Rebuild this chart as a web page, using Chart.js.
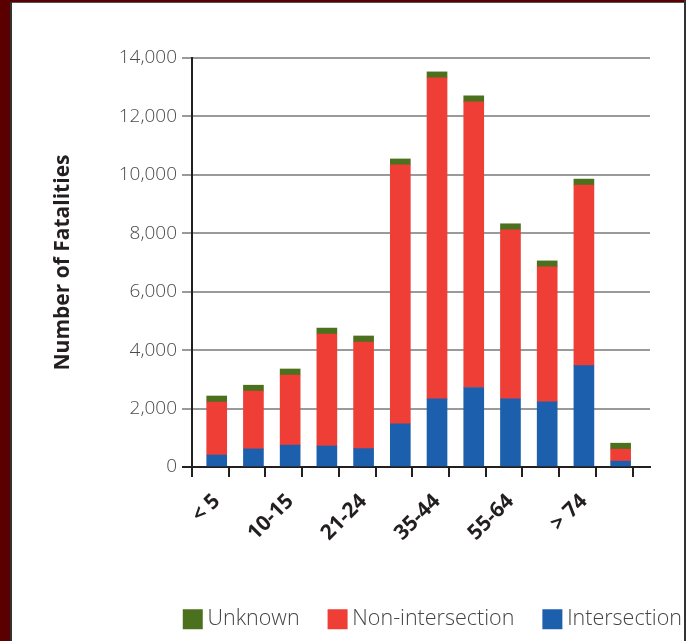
<!DOCTYPE html>
<html><head><meta charset="utf-8">
<script src="https://cdn.jsdelivr.net/npm/chart.js@4.4.1/dist/chart.umd.min.js"></script>
<style>
html,body{margin:0;padding:0;width:692px;height:641px;overflow:hidden;background:#fff;position:relative}
#wrap{position:absolute;left:0;top:0;width:716px;height:640px}
.b{position:absolute;z-index:2}
</style></head><body>
<div id="wrap"><canvas id="c" width="716" height="640"></canvas></div>
<div class="b" style="left:0;top:0;width:10px;height:641px;background:#5a0000"></div>
<div class="b" style="left:10px;top:0;width:2px;height:641px;background:#333"></div>
<div class="b" style="left:0;top:0;width:686px;height:2px;background:#5a0000"></div>
<div class="b" style="left:12px;top:2px;width:672px;height:1px;background:#555"></div>
<div class="b" style="left:684px;top:0;width:2px;height:641px;background:#333"></div>
<script>
// ---- data ----
const categories = ['< 5','5-9','10-15','16-20','21-24','25-34','35-44','45-54','55-64','65-74','> 74','Unknown'];
const tickLabels = ['< 5','','10-15','','21-24','','35-44','','55-64','','> 74',''];
const intersection    = [410, 620, 750, 720, 630, 1480, 2330, 2720, 2330, 2230, 3470, 200];
const nonIntersection = [1810, 1980, 2400, 3830, 3650, 8860, 10990, 9780, 5790, 4620, 6180, 410];
const unknown         = [210, 200, 205, 205, 205, 205, 205, 205, 205, 205, 205, 205];
const yTickStep = 2000;
const yMax = 14000;

const FONT = 'Open Sans';
const ctx = document.getElementById('c').getContext('2d');
new Chart(ctx, {
  type: 'bar',
  data: {
    labels: categories.map((c, i) => i),
    datasets: [
      {label: 'Intersection', data: intersection, backgroundColor: '#1c60ad'},
      {label: 'Non-intersection', data: nonIntersection, backgroundColor: '#ef3e36'},
      {label: 'Unknown', data: unknown, backgroundColor: '#4c711e'}
    ]
  },
  options: {
    responsive: false,
    animation: false,
    devicePixelRatio: 1,
    barThickness: 20,
    layout: {padding: {top: 58, left: 0, right: 0, bottom: 0}},
    plugins: {
      legend: {
        position: 'bottom', align: 'end', reverse: true,
        labels: {usePointStyle: true, pointStyle: 'rect', boxWidth: 8, boxHeight: 20,
          padding: 34, color: '#444',
          font: {family: FONT, size: 21.5, weight: '300'}}
      },
      tooltip: {enabled: false}
    },
    scales: {
      x: {
        type: 'linear', stacked: true, min: -0.673, max: 11.8, offset: false,
        afterBuildTicks: (s) => {
          const t = [];
          for (let i = -1; i < categories.length; i++) {
            if (i >= 0) t.push({value: i});
            t.push({value: i + 0.327});
          }
          s.ticks = t;
        },
        afterFit: (s) => { s.height = 107.5; },
        ticks: {
          autoSkip: false, minRotation: 45, maxRotation: 45, padding: 12,
          color: '#231f20', font: {family: FONT, size: 21, weight: 'bold'},
          callback: (v) => Number.isInteger(v) ? tickLabels[v] : ''
        },
        grid: {
          offset: false, drawOnChartArea: false, drawTicks: true, tickLength: 10, lineWidth: 2,
          tickColor: (c) => (c.tick && Number.isInteger(c.tick.value)) ? 'rgba(0,0,0,0)' : '#231f20'
        },
        border: {display: true, color: '#231f20', width: 2}
      },
      y: {
        stacked: true, min: 0, max: yMax,
        afterFit: (s) => { s.width = 192; },
        ticks: {stepSize: yTickStep, padding: 5, color: '#4a4a4a',
          font: {family: FONT, size: 19, weight: '300'}},
        grid: {
          color: (c) => (c.tick && c.tick.value === 0) ? '#231f20' : '#9a9a9a',
          lineWidth: 2, tickLength: 10
        },
        border: {color: '#231f20', width: 2},
        title: {display: true, text: 'Number of Fatalities', color: '#231f20',
          font: {family: FONT, size: 21, weight: 'bold'}, padding: {top: 50, bottom: 0}}
      },
      y2: {
        position: 'right', display: true,
        grid: {display: false}, border: {display: false}, ticks: {display: false},
        afterFit: (s) => { s.width = 66; }
      }
    }
  }
});
</script>
</body></html>
